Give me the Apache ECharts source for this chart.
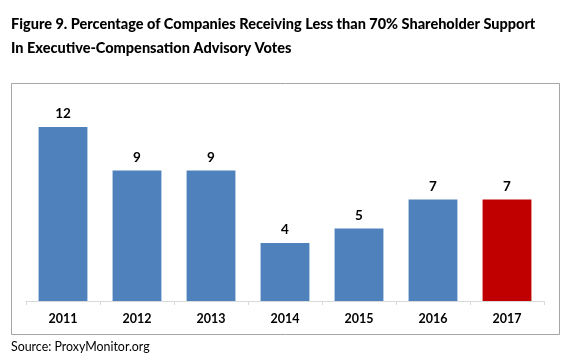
<!DOCTYPE html>
<html><head><meta charset="utf-8">
<script src="https://cdn.jsdelivr.net/npm/echarts@6/dist/echarts.min.js"></script>
<style>html,body{margin:0;padding:0;background:#fff}#c{width:568px;height:362px}</style>
</head><body><div id="c"></div>
<script>
const categories = ['2011','2012','2013','2014','2015','2016','2017'];
const values = [12, 9, 9, 4, 5, 7, 7];
const highlightCategory = '2017';
const titleLine1 = 'Figure 9. Percentage of Companies Receiving Less than 70% Shareholder Support';
const titleLine2 = 'In Executive-Compensation Advisory Votes';
const sourceText = 'Source: ProxyMonitor.org';

const chart = echarts.init(document.getElementById('c'), null, {renderer:'canvas'});
const font = 'Lato, sans-serif';
chart.setOption({
  animation:false,
  graphic:[
    {type:'text', left:11, top:17, style:{text:titleLine1, font:'900 14.5px '+font, fill:'#000'}},
    {type:'text', left:11, top:41, style:{text:titleLine2, font:'900 14.5px '+font, fill:'#000'}},
    {type:'rect', shape:{x:11.5, y:83.5, width:548, height:251}, style:{fill:'none', stroke:'#a6a6a6', lineWidth:1}, silent:true},
    {type:'text', left:11, top:341, style:{text:sourceText, font:'12.4px '+font, fill:'#000'}}
  ],
  grid:{left:26, right:24, top:98, bottom:61},
  xAxis:{type:'category', data:categories,
    axisLine:{lineStyle:{color:'#d9d9d9'}},
    axisTick:{show:true, length:4, lineStyle:{color:'#d9d9d9'}},
    axisLabel:{color:'#000', fontWeight:'bold', fontSize:12.5, fontFamily:font, margin:11}},
  yAxis:{type:'value', min:0, max:14, show:false, splitLine:{show:false}},
  series:[{type:'bar', barCategoryGap:'34%',
    data: values.map((v,i)=>({value:v, itemStyle:{color: categories[i]===highlightCategory ? '#c00000' : '#4f81bd'}})),
    label:{show:true, position:'top', distance:6, color:'#000', fontSize:13.5, fontWeight:'bold', fontFamily:font}
  }]
});
</script></body></html>
